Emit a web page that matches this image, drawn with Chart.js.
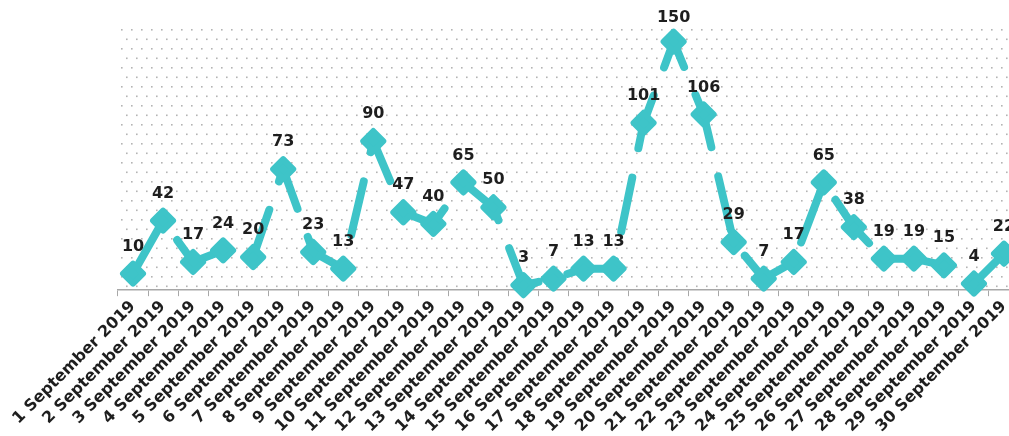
<!DOCTYPE html>
<html>
<head>
<meta charset="utf-8">
<script src="https://cdn.jsdelivr.net/npm/chart.js@4/dist/chart.umd.min.js"></script>
<style>
  html, body { margin: 0; padding: 0; background: #fff; overflow: hidden; }
  #wrap { width: 1009px; height: 436px; overflow: hidden; position: relative; }
  canvas { display: block; }
</style>
</head>
<body>
<div id="wrap"><canvas id="c" width="1035" height="437"></canvas></div>
<script>
// Daily counts, September 2019
const days = [
  '1 September 2019', '2 September 2019', '3 September 2019', '4 September 2019',
  '5 September 2019', '6 September 2019', '7 September 2019', '8 September 2019',
  '9 September 2019', '10 September 2019', '11 September 2019', '12 September 2019',
  '13 September 2019', '14 September 2019', '15 September 2019', '16 September 2019',
  '17 September 2019', '18 September 2019', '19 September 2019', '20 September 2019',
  '21 September 2019', '22 September 2019', '23 September 2019', '24 September 2019',
  '25 September 2019', '26 September 2019', '27 September 2019', '28 September 2019',
  '29 September 2019', '30 September 2019'
];
const counts = [10, 42, 17, 24, 20, 73, 23, 13, 90, 47, 40, 65, 50, 3, 7,
                13, 13, 101, 150, 106, 29, 7, 17, 65, 38, 19, 19, 15, 4, 22];
const yRange = [0, 160];

const TEAL = '#3ec4c8';
const CORE = '#c8cb72';
const INK = '#1e1e1e';

// dotted backdrop inside the plot area
const dotBackdrop = {
  id: 'dotBackdrop',
  beforeDatasetsDraw(chart) {
    const { ctx, chartArea: a } = chart;
    ctx.save();
    ctx.fillStyle = '#b4b4b4';
    let row = 0;
    for (let y = a.top + 4; y < a.bottom - 2; y += 9.5, row++) {
      const shift = (row % 2) ? 5 : 0;
      for (let x = a.left + 3 + shift; x < a.right; x += 10) {
        ctx.fillRect(x, y, 1.6, 1.6);
      }
    }
    ctx.restore();
  },
  beforeDatasetDraw(chart) {
    // soften the diamond corners
    chart.ctx.lineJoin = 'round';
  }
};

// value labels above each point
const valueLabels = {
  id: 'valueLabels',
  afterDatasetsDraw(chart) {
    const { ctx } = chart;
    const meta = chart.getDatasetMeta(0);
    ctx.save();
    ctx.font = 'bold 16px "DejaVu Sans"';
    ctx.fillStyle = INK;
    ctx.textAlign = 'center';
    ctx.textBaseline = 'middle';
    meta.data.forEach((pt, i) => {
      const y = Math.max(pt.y - 27, 18);
      ctx.fillText(String(counts[i]), pt.x, y);
    });
    ctx.restore();
  }
};

new Chart(document.getElementById('c'), {
  type: 'line',
  data: {
    labels: days,
    datasets: [
      {
        data: counts,
        borderColor: TEAL,
        borderWidth: 8,
        borderDash: [55, 30],
        borderCapStyle: 'round',
        tension: 0,
        fill: false,
        pointStyle: 'rectRot',
        pointRadius: 10,
        pointBorderWidth: 6,
        pointBackgroundColor: TEAL,
        pointBorderColor: TEAL,
        clip: false
      },
      {
        data: counts,
        showLine: false,
        pointStyle: 'circle',
        pointRadius: 3.2,
        pointBorderWidth: 0,
        pointBackgroundColor: CORE,
        clip: false
      }
    ]
  },
  options: {
    responsive: false,
    animation: false,
    devicePixelRatio: 1,
    layout: { padding: { top: 25, left: 118, right: 12, bottom: 0 } },
    plugins: { legend: { display: false }, tooltip: { enabled: false }, title: { display: false } },
    scales: {
      x: {
        offset: true,
        grid: { display: true, drawOnChartArea: false, drawTicks: true, tickLength: 6, color: '#a8a8a8', offset: true },
        border: { display: true, color: '#a8a8a8', width: 1.5 },
        ticks: {
          autoSkip: false,
          minRotation: 45,
          maxRotation: 45,
          padding: 1,
          color: INK,
          font: { family: '"DejaVu Sans"', size: 16, weight: 'bold' }
        }
      },
      y: {
        display: false,
        min: yRange[0],
        max: yRange[1]
      }
    }
  },
  plugins: [dotBackdrop, valueLabels]
});
</script>
</body>
</html>
